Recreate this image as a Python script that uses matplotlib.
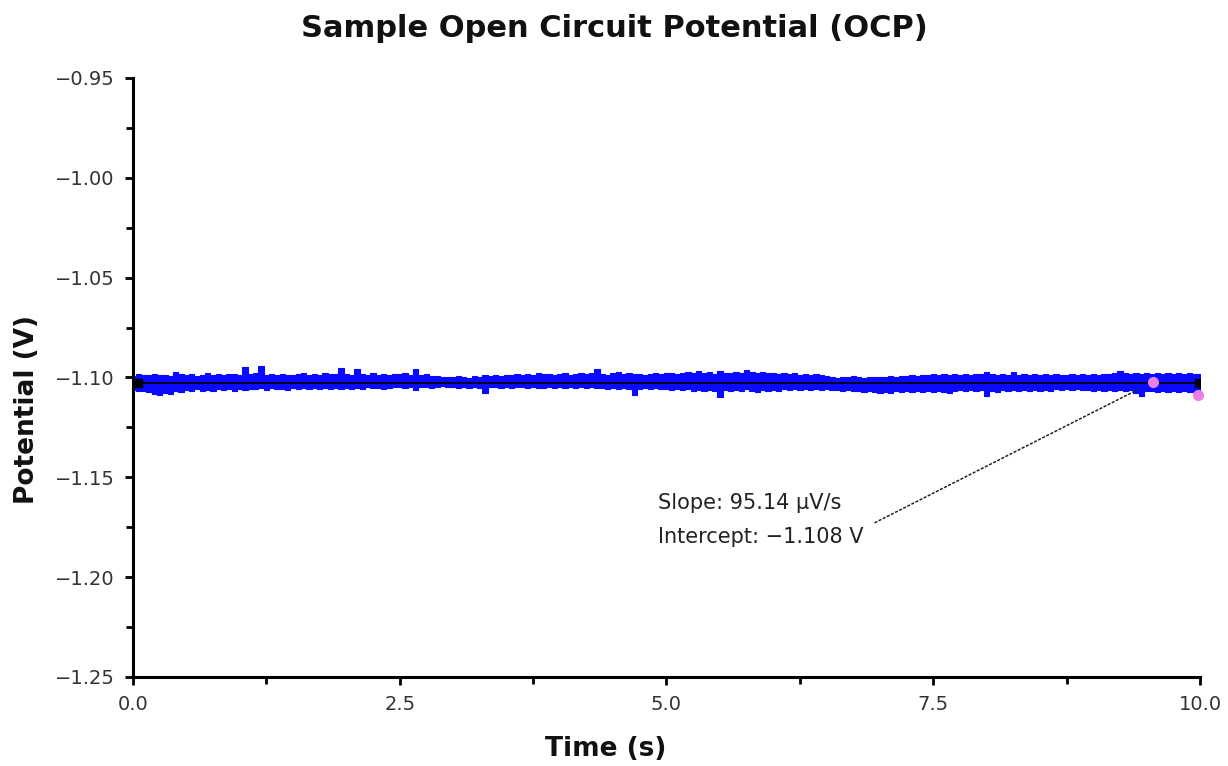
import numpy as np
import matplotlib
matplotlib.use("Agg")
import matplotlib.pyplot as plt
from matplotlib.ticker import MultipleLocator, FuncFormatter

# ---- data ----
SAMPLE_STEP = 0.05  # s, spacing of the envelope samples below

# upper edge of the noisy OCP trace (V), t = 0 ... 10 s
upper_v = [
    -1.0992, -1.0985, -1.0990, -1.0988, -1.0983, -1.0990, -1.0986, -1.0992, -1.0975, -1.0984,
    -1.0989, -1.0983, -1.0991, -1.0986, -1.0980, -1.0988, -1.0984, -1.0990, -1.0985, -1.0982,
    -1.0987, -1.0945, -1.0983, -1.0980, -1.0944, -1.0986, -1.0981, -1.0988, -1.0983, -1.0986,
    -1.0990, -1.0984, -1.0979, -1.0987, -1.0982, -1.0989, -1.0978, -1.0985, -1.0983, -1.0950,
    -1.0984, -1.0988, -1.0958, -1.0983, -1.0986, -1.0980, -1.0987, -1.0982, -1.0989, -1.0985,
    -1.0983, -1.0978, -1.0990, -1.0958, -1.0986, -1.0984, -1.0991, -1.0995, -1.0998, -1.0996,
    -1.1000, -1.0995, -1.0998, -1.1001, -1.0994, -1.0997, -1.0990, -1.0993, -1.0988, -1.0991,
    -1.0986, -1.0990, -1.0984, -1.0988, -1.0983, -1.0987, -1.0980, -1.0985, -1.0982, -1.0988,
    -1.0984, -1.0979, -1.0986, -1.0981, -1.0976, -1.0983, -1.0978, -1.0958, -1.0982, -1.0986,
    -1.0980, -1.0975, -1.0984, -1.0979, -1.0985, -1.0981, -1.0987, -1.0983, -1.0979, -1.0985,
    -1.0980, -1.0976, -1.0983, -1.0978, -1.0972, -1.0980, -1.0968, -1.0977, -1.0974, -1.0981,
    -1.0970, -1.0976, -1.0980, -1.0974, -1.0978, -1.0962, -1.0975, -1.0979, -1.0973, -1.0980,
    -1.0976, -1.0982, -1.0978, -1.0984, -1.0980, -1.0986, -1.0983, -1.0988, -1.0985, -1.0990,
    -1.0994, -1.0998, -1.1001, -1.0996, -1.1000, -1.0995, -1.0999, -1.1002, -1.0997, -1.1000,
    -1.0996, -1.0999, -1.0993, -1.0997, -1.0991, -1.0995, -1.0988, -1.0992, -1.0986, -1.0990,
    -1.0985, -1.0990, -1.0984, -1.0988, -1.0983, -1.0987, -1.0982, -1.0986, -1.0981, -1.0985,
    -1.0972, -1.0984, -1.0988, -1.0983, -1.0987, -1.0975, -1.0986, -1.0982, -1.0989, -1.0984,
    -1.0988, -1.0983, -1.0987, -1.0981, -1.0986, -1.0990, -1.0984, -1.0988, -1.0982, -1.0986,
    -1.0983, -1.0987, -1.0981, -1.0985, -1.0979, -1.0968, -1.0980, -1.0984, -1.0978, -1.0983,
    -1.0980, -1.0985, -1.0979, -1.0984, -1.0978, -1.0983, -1.0977, -1.0982, -1.0979, -1.0985,
    -1.0984,
]

# lower edge of the noisy OCP trace (V)
lower_v = [
    -1.1062, -1.1070, -1.1066, -1.1075, -1.1083, -1.1090, -1.1078, -1.1085, -1.1068, -1.1072,
    -1.1064, -1.1070, -1.1058, -1.1066, -1.1061, -1.1069, -1.1057, -1.1063, -1.1060, -1.1066,
    -1.1058, -1.1062, -1.1056, -1.1060, -1.1055, -1.1061, -1.1054, -1.1059, -1.1056, -1.1062,
    -1.1055, -1.1060, -1.1053, -1.1058, -1.1052, -1.1057, -1.1054, -1.1059, -1.1051, -1.1056,
    -1.1053, -1.1058, -1.1052, -1.1056, -1.1050, -1.1055, -1.1052, -1.1057, -1.1053, -1.1050,
    -1.1048, -1.1053, -1.1047, -1.1062, -1.1050, -1.1046, -1.1051, -1.1048, -1.1045, -1.1050,
    -1.1047, -1.1052, -1.1048, -1.1053, -1.1049, -1.1054, -1.1076, -1.1050, -1.1047, -1.1052,
    -1.1049, -1.1054, -1.1050, -1.1048, -1.1053, -1.1049, -1.1055, -1.1051, -1.1047, -1.1052,
    -1.1050, -1.1054, -1.1049, -1.1053, -1.1048, -1.1052, -1.1050, -1.1055, -1.1051, -1.1056,
    -1.1052, -1.1057, -1.1053, -1.1058, -1.1090, -1.1056, -1.1052, -1.1058, -1.1055, -1.1060,
    -1.1056, -1.1062, -1.1058, -1.1064, -1.1060, -1.1066, -1.1062, -1.1068, -1.1063, -1.1067,
    -1.1100, -1.1064, -1.1070, -1.1062, -1.1068, -1.1060, -1.1066, -1.1072, -1.1063, -1.1068,
    -1.1062, -1.1066, -1.1060, -1.1065, -1.1059, -1.1064, -1.1058, -1.1063, -1.1060, -1.1064,
    -1.1060, -1.1065, -1.1062, -1.1068, -1.1064, -1.1070, -1.1066, -1.1072, -1.1068, -1.1074,
    -1.1078, -1.1072, -1.1076, -1.1070, -1.1075, -1.1069, -1.1074, -1.1068, -1.1073, -1.1067,
    -1.1071, -1.1066, -1.1072, -1.1078, -1.1069, -1.1065, -1.1070, -1.1064, -1.1069, -1.1063,
    -1.1095, -1.1066, -1.1071, -1.1065, -1.1070, -1.1064, -1.1069, -1.1063, -1.1068, -1.1062,
    -1.1067, -1.1061, -1.1066, -1.1060, -1.1065, -1.1059, -1.1064, -1.1060, -1.1065, -1.1061,
    -1.1066, -1.1062, -1.1067, -1.1063, -1.1068, -1.1064, -1.1069, -1.1065, -1.1080, -1.1095,
    -1.1070, -1.1066, -1.1072, -1.1068, -1.1073, -1.1069, -1.1074, -1.1070, -1.1075, -1.1071,
    -1.1066,
]

# linear fit drawn over the trace (end points, black squares)
fit_t = [0.05, 9.99]
fit_v = [-1.1028, -1.1028]

# pink cursor points
pink_t = [9.56, 9.98]
pink_v = [-1.1022, -1.1087]

# leader line of the fit label
leader_t = [6.95, 9.42]
leader_v = [-1.1728, -1.1060]

fit_lines = ["Slope: 95.14 µV/s", "Intercept: \u22121.108 V"]

t = np.arange(len(upper_v)) * SAMPLE_STEP


def minus_fmt(decimals):
    return FuncFormatter(lambda v, pos: f"{v:.{decimals}f}".replace("-", "\u2212"))


# ---- figure ----
fig = plt.figure(figsize=(12.28, 7.66), dpi=100)
ax = fig.add_axes([0.1083, 0.1162, 0.8689, 0.7820])

ax.fill_between(t, lower_v, upper_v, step="mid", color="#0a0aff", lw=0.8, zorder=2)
ax.plot(fit_t, fit_v, color="black", lw=1.2, zorder=3)
ax.plot(fit_t, fit_v, "s", color="black", ms=6, zorder=4)
ax.plot(pink_t, pink_v, "o", color="#e880e6", ms=7, zorder=5, clip_on=False)
ax.plot(leader_t, leader_v, color="#222222", lw=1.1, ls=(0, (2, 1)), zorder=3)

ax.text(4.92, -1.1628, fit_lines[0], fontsize=15, color="#222222", va="center", ha="left")
ax.text(4.92, -1.1798, fit_lines[1], fontsize=15, color="#222222", va="center", ha="left")

ax.set_xlim(0, 10)
ax.set_ylim(-1.25, -0.95)
ax.xaxis.set_major_locator(MultipleLocator(2.5))
ax.xaxis.set_minor_locator(MultipleLocator(1.25))
ax.yaxis.set_major_locator(MultipleLocator(0.05))
ax.yaxis.set_minor_locator(MultipleLocator(0.025))
ax.xaxis.set_major_formatter(minus_fmt(1))
ax.yaxis.set_major_formatter(minus_fmt(2))

for s in ["top", "right"]:
    ax.spines[s].set_visible(False)
for s in ["left", "bottom"]:
    ax.spines[s].set_linewidth(2.2)

ax.tick_params(which="major", direction="out", length=6, width=2, labelsize=14,
               labelcolor="#333333", pad=7)
ax.tick_params(which="minor", direction="out", length=5, width=2)

fig.suptitle("Sample Open Circuit Potential (OCP)", x=0.5, y=0.982, fontsize=22,
             fontweight="bold", color="#111111")
fig.text(0.493, 0.022, "Time (s)", ha="center", va="center", fontsize=19,
         fontweight="bold", color="#111111")
fig.text(0.022, 0.465, "Potential (V)", ha="center", va="center", rotation=90,
         fontsize=19, fontweight="bold", color="#111111")

fig.savefig("out.png", dpi=100)
